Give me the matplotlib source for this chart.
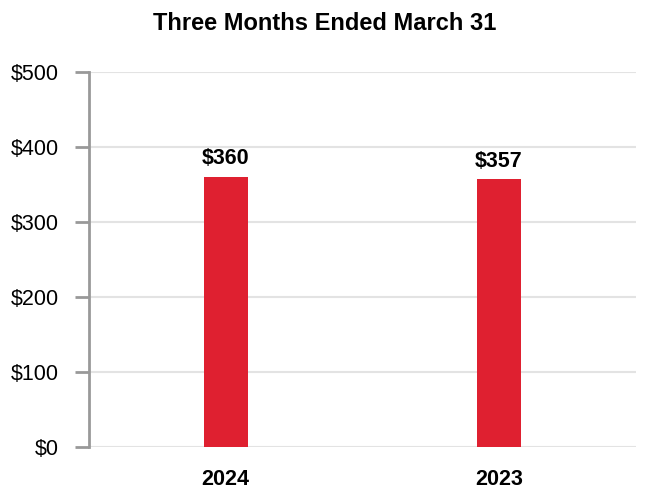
import matplotlib.pyplot as plt

plt.rcParams['font.family'] = ['Liberation Sans', 'DejaVu Sans']

years = ['2024', '2023']
values = [360, 357]
yticks = [0, 100, 200, 300, 400, 500]
bar_color = '#DF2030'


def main():
    fig = plt.figure(figsize=(6.5, 5), dpi=100)
    ax = fig.add_axes([0.137, 0.106, 0.841, 0.75])

    x = range(len(years))
    bars = ax.bar(x, values, width=0.16, color=bar_color, zorder=3)

    for b, v in zip(bars, values):
        ax.text(b.get_x() + b.get_width() / 2, v + 10, '$%d' % v,
                ha='center', va='bottom', fontsize=15.5, fontweight='bold')

    ax.set_xlim(-0.5, 1.5)
    ax.set_ylim(0, 500)
    ax.set_yticks(yticks)
    ax.set_yticklabels(['$%d' % t for t in yticks], fontsize=15.5)
    ax.set_xticks(list(x))
    ax.set_xticklabels(years, fontsize=15.5, fontweight='bold')

    ax.grid(axis='y', color='#E3E3E3', linewidth=1.5, zorder=0)
    for s in ['top', 'right', 'bottom']:
        ax.spines[s].set_visible(False)
    ax.spines['left'].set_color('#999999')
    ax.spines['left'].set_linewidth(2)
    ax.tick_params(axis='y', length=10, width=2, color='#999999', pad=12)
    ax.tick_params(axis='x', length=0, pad=16)

    fig.suptitle('Three Months Ended March 31', fontsize=17, fontweight='bold',
                 y=0.975)
    fig.savefig('out.png')


if __name__ == '__main__':
    main()
